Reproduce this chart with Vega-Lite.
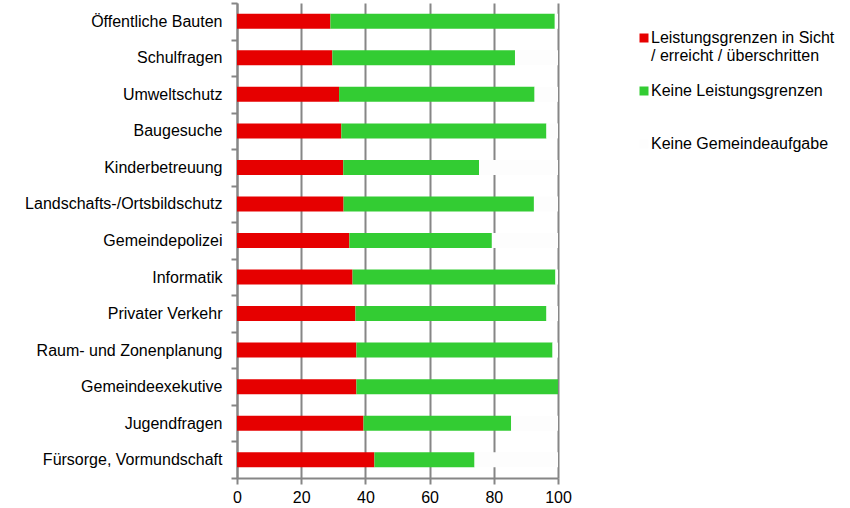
{
  "$schema": "https://vega.github.io/schema/vega-lite/v6.json",
  "autosize": {"type": "none"},
  "padding": {"left": 237, "top": 3, "right": 292, "bottom": 30},
  "width": 321,
  "height": 475,
  "background": "white",
  "data": {
    "values": [
      {"Bereich": "Öffentliche Bauten", "Status": "Leistungsgrenzen in Sicht / erreicht / überschritten", "Anteil": 29.1},
      {"Bereich": "Öffentliche Bauten", "Status": "Keine Leistungsgrenzen", "Anteil": 69.9},
      {"Bereich": "Öffentliche Bauten", "Status": "Keine Gemeindeaufgabe", "Anteil": 1.0},
      {"Bereich": "Schulfragen", "Status": "Leistungsgrenzen in Sicht / erreicht / überschritten", "Anteil": 29.7},
      {"Bereich": "Schulfragen", "Status": "Keine Leistungsgrenzen", "Anteil": 56.9},
      {"Bereich": "Schulfragen", "Status": "Keine Gemeindeaufgabe", "Anteil": 13.4},
      {"Bereich": "Umweltschutz", "Status": "Leistungsgrenzen in Sicht / erreicht / überschritten", "Anteil": 31.8},
      {"Bereich": "Umweltschutz", "Status": "Keine Leistungsgrenzen", "Anteil": 60.9},
      {"Bereich": "Umweltschutz", "Status": "Keine Gemeindeaufgabe", "Anteil": 7.3},
      {"Bereich": "Baugesuche", "Status": "Leistungsgrenzen in Sicht / erreicht / überschritten", "Anteil": 32.5},
      {"Bereich": "Baugesuche", "Status": "Keine Leistungsgrenzen", "Anteil": 63.9},
      {"Bereich": "Baugesuche", "Status": "Keine Gemeindeaufgabe", "Anteil": 3.6},
      {"Bereich": "Kinderbetreuung", "Status": "Leistungsgrenzen in Sicht / erreicht / überschritten", "Anteil": 33.1},
      {"Bereich": "Kinderbetreuung", "Status": "Keine Leistungsgrenzen", "Anteil": 42.3},
      {"Bereich": "Kinderbetreuung", "Status": "Keine Gemeindeaufgabe", "Anteil": 24.6},
      {"Bereich": "Landschafts-/Ortsbildschutz", "Status": "Leistungsgrenzen in Sicht / erreicht / überschritten", "Anteil": 33.2},
      {"Bereich": "Landschafts-/Ortsbildschutz", "Status": "Keine Leistungsgrenzen", "Anteil": 59.3},
      {"Bereich": "Landschafts-/Ortsbildschutz", "Status": "Keine Gemeindeaufgabe", "Anteil": 7.5},
      {"Bereich": "Gemeindepolizei", "Status": "Leistungsgrenzen in Sicht / erreicht / überschritten", "Anteil": 35.0},
      {"Bereich": "Gemeindepolizei", "Status": "Keine Leistungsgrenzen", "Anteil": 44.4},
      {"Bereich": "Gemeindepolizei", "Status": "Keine Gemeindeaufgabe", "Anteil": 20.6},
      {"Bereich": "Informatik", "Status": "Leistungsgrenzen in Sicht / erreicht / überschritten", "Anteil": 36.0},
      {"Bereich": "Informatik", "Status": "Keine Leistungsgrenzen", "Anteil": 63.2},
      {"Bereich": "Informatik", "Status": "Keine Gemeindeaufgabe", "Anteil": 0.8},
      {"Bereich": "Privater Verkehr", "Status": "Leistungsgrenzen in Sicht / erreicht / überschritten", "Anteil": 36.9},
      {"Bereich": "Privater Verkehr", "Status": "Keine Leistungsgrenzen", "Anteil": 59.5},
      {"Bereich": "Privater Verkehr", "Status": "Keine Gemeindeaufgabe", "Anteil": 3.6},
      {"Bereich": "Raum- und Zonenplanung", "Status": "Leistungsgrenzen in Sicht / erreicht / überschritten", "Anteil": 37.2},
      {"Bereich": "Raum- und Zonenplanung", "Status": "Keine Leistungsgrenzen", "Anteil": 61.1},
      {"Bereich": "Raum- und Zonenplanung", "Status": "Keine Gemeindeaufgabe", "Anteil": 1.7},
      {"Bereich": "Gemeindeexekutive", "Status": "Leistungsgrenzen in Sicht / erreicht / überschritten", "Anteil": 37.2},
      {"Bereich": "Gemeindeexekutive", "Status": "Keine Leistungsgrenzen", "Anteil": 62.8},
      {"Bereich": "Gemeindeexekutive", "Status": "Keine Gemeindeaufgabe", "Anteil": 0.0},
      {"Bereich": "Jugendfragen", "Status": "Leistungsgrenzen in Sicht / erreicht / überschritten", "Anteil": 39.4},
      {"Bereich": "Jugendfragen", "Status": "Keine Leistungsgrenzen", "Anteil": 46.0},
      {"Bereich": "Jugendfragen", "Status": "Keine Gemeindeaufgabe", "Anteil": 14.6},
      {"Bereich": "Fürsorge, Vormundschaft", "Status": "Leistungsgrenzen in Sicht / erreicht / überschritten", "Anteil": 42.8},
      {"Bereich": "Fürsorge, Vormundschaft", "Status": "Keine Leistungsgrenzen", "Anteil": 31.2},
      {"Bereich": "Fürsorge, Vormundschaft", "Status": "Keine Gemeindeaufgabe", "Anteil": 26.0}
    ]
  },
  "mark": {"type": "bar", "size": 15},
  "encoding": {
    "y": {
      "field": "Bereich",
      "type": "nominal",
      "sort": null,
      "scale": {"paddingInner": 0, "paddingOuter": 0},
      "axis": {
        "title": null,
        "tickBand": "extent",
        "tickSize": 6,
        "tickWidth": 2,
        "tickColor": "#868686",
        "domainColor": "#868686",
        "domainWidth": 2,
        "labelPadding": 9,
        "labelFont": "Liberation Sans",
        "labelFontSize": 16,
        "labelColor": "#000000",
        "labelLimit": 300,
        "grid": false
      }
    },
    "x": {
      "field": "Anteil",
      "type": "quantitative",
      "stack": "zero",
      "scale": {"domain": [0, 100], "nice": false},
      "axis": {
        "title": null,
        "values": [0, 20, 40, 60, 80, 100],
        "grid": true,
        "gridColor": "#868686",
        "gridWidth": 2,
        "gridOpacity": 1,
        "tickSize": 6,
        "tickWidth": 2,
        "tickColor": "#868686",
        "domainColor": "#868686",
        "domainWidth": 2,
        "labelPadding": 5,
        "labelFont": "Liberation Sans",
        "labelFontSize": 16,
        "labelColor": "#000000",
        "labelFlush": false
      }
    },
    "order": {"field": "Status", "sort": "descending"},
    "color": {
      "field": "Status",
      "type": "nominal",
      "sort": ["Leistungsgrenzen in Sicht / erreicht / überschritten", "Keine Leistungsgrenzen", "Keine Gemeindeaufgabe"],
      "scale": {
        "domain": ["Leistungsgrenzen in Sicht / erreicht / überschritten", "Keine Leistungsgrenzen", "Keine Gemeindeaufgabe"],
        "range": ["#e60000", "#33cc33", "#fdfdfd"]
      },
      "legend": {
        "title": null,
        "orient": "none",
        "legendX": 399,
        "legendY": 27,
        "symbolType": "square",
        "symbolSize": 81,
        "symbolStrokeWidth": 0,
        "symbolOpacity": 1,
        "labelFont": "Liberation Sans",
        "labelFontSize": 16,
        "labelColor": "#000000",
        "labelOffset": -1,
        "labelLimit": 300,
        "gridAlign": "all",
        "rowPadding": 19,
        "labelExpr": "datum.label == 'Leistungsgrenzen in Sicht / erreicht / überschritten' ? ['Leistungsgrenzen in Sicht', '/ erreicht / überschritten'] : datum.label"
      }
    }
  },
  "config": {
    "view": {"stroke": null}
  }
}
